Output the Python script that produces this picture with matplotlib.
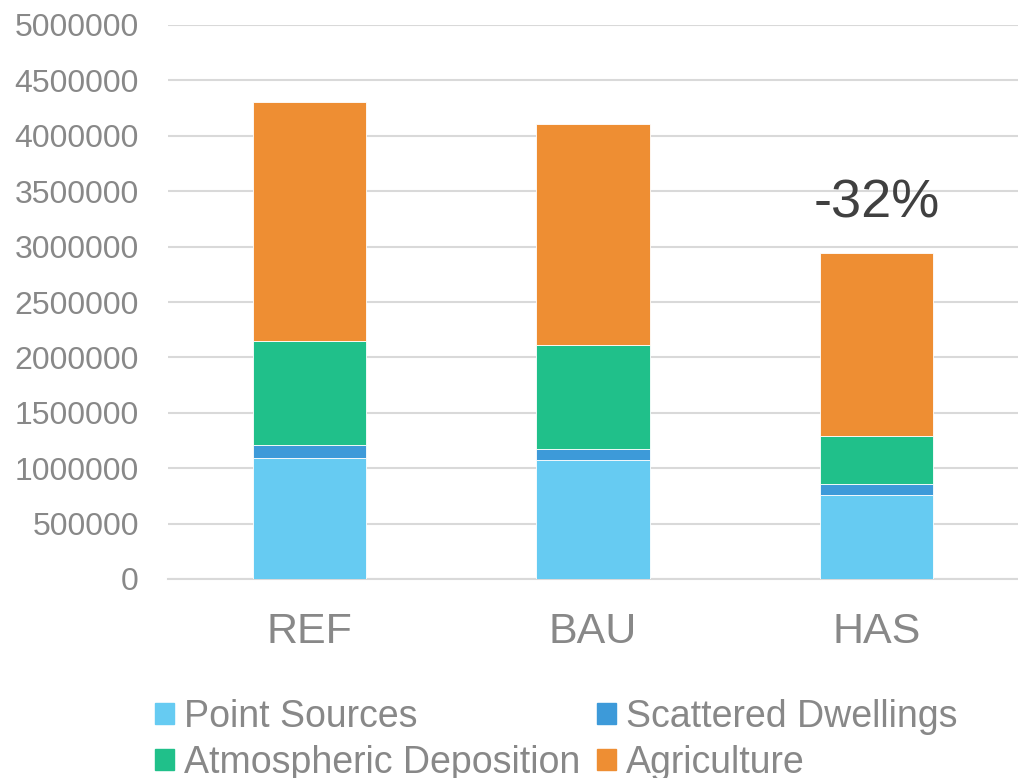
import matplotlib.pyplot as plt
from matplotlib.patches import Patch
import numpy as np

plt.rcParams['font.family'] = ['Liberation Sans', 'DejaVu Sans']

scenarios = ['REF', 'BAU', 'HAS']
point_sources = [1092000, 1074000, 755000]
scattered_dwellings = [115000, 99000, 100000]
atmospheric_deposition = [944000, 936000, 438000]
agriculture = [2154000, 1995000, 1647000]
change_label = '-32%'

series = [
    ('Point Sources', point_sources, '#66cbf2'),
    ('Scattered Dwellings', scattered_dwellings, '#3d9ad9'),
    ('Atmospheric Deposition', atmospheric_deposition, '#20c08a'),
    ('Agriculture', agriculture, '#ee8e33'),
]

fig = plt.figure(figsize=(10.18, 7.78), dpi=100)
ax = fig.add_axes([168 / 1018, 1 - 579 / 778, 850 / 1018, 554 / 778])

x = np.arange(len(scenarios))
bottom = np.zeros(len(scenarios))
for name, vals, color in series:
    ax.bar(x, vals, width=0.4, bottom=bottom, color=color,
           edgecolor='white', linewidth=0.6, zorder=3)
    bottom += np.array(vals)

# label above the last stack
ax.text(x[-1], bottom[-1] + 220000, change_label, ha='center', va='bottom',
        fontsize=39, color='#404040')

ax.set_xlim(-0.5, len(scenarios) - 0.5)
ax.set_ylim(0, 5000000)
ax.set_yticks(np.arange(0, 5000001, 500000))
ax.set_yticklabels([str(v) for v in range(0, 5000001, 500000)])
ax.set_xticks(x)
ax.set_xticklabels(scenarios)

ax.grid(axis='y', color='#d9d9d9', linewidth=1.5, zorder=0)
for side in ['top', 'right', 'left']:
    ax.spines[side].set_visible(False)
ax.spines['bottom'].set_color('#d9d9d9')
ax.spines['bottom'].set_linewidth(1.5)
ax.tick_params(axis='y', length=0, labelsize=23, labelcolor='#888888', pad=21)
ax.tick_params(axis='x', length=0, labelsize=31, labelcolor='#888888', pad=24)

handles = [Patch(color=c, label=n) for n, _, c in series]
# column-major fill, so reorder to read across rows
order = [0, 2, 1, 3]
leg = fig.legend([handles[i] for i in order], [handles[i].get_label() for i in order],
                 ncol=2, loc='lower left', bbox_to_anchor=(136 / 1018, -0.028),
                 frameon=False, fontsize=27, handlelength=0.5, handleheight=0.5,
                 handletextpad=0.27, columnspacing=0.45, labelspacing=0.28,
                 borderpad=0)
for t in leg.get_texts():
    t.set_color('#888888')

fig.savefig('out.png', dpi=100)
